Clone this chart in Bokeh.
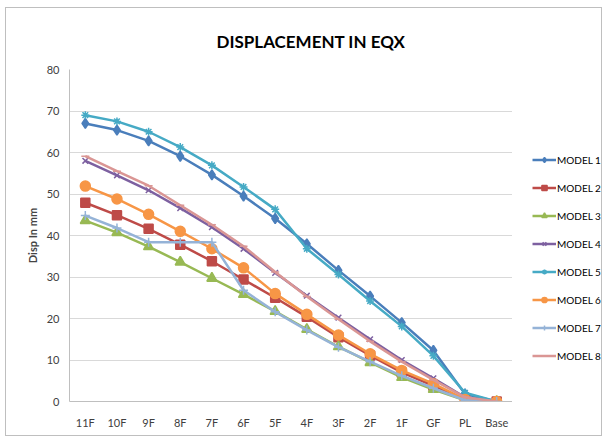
from bokeh.plotting import figure
from bokeh.layouts import row
from bokeh.models import FactorRange, Range1d, FixedTicker, Legend, LegendItem
from bokeh.embed import file_html
from bokeh.resources import INLINE

floors = ["11F", "10F", "9F", "8F", "7F", "6F", "5F", "4F", "3F", "2F", "1F", "GF", "PL", "Base"]

model1 = [67, 65.4, 62.8, 59.1, 54.6, 49.5, 44.1, 38.0, 31.6, 25.4, 19.0, 12.3, 1.8, 0]
model2 = [47.9, 44.9, 41.6, 37.8, 33.8, 29.4, 25.0, 20.4, 15.5, 11.1, 7.0, 3.8, 0.4, 0]
model3 = [43.6, 40.7, 37.3, 33.6, 29.7, 25.8, 21.7, 17.4, 13.2, 9.4, 5.8, 2.9, 0.3, 0]
model4 = [58.0, 54.5, 50.9, 46.6, 42.0, 36.8, 31.0, 25.5, 20.2, 15.0, 10.0, 5.6, 1.0, 0]
model5 = [69.0, 67.5, 65.0, 61.3, 56.9, 51.7, 46.3, 36.8, 30.6, 24.2, 18.1, 11.0, 2.1, 0]
model6 = [51.9, 48.8, 45.1, 41.0, 36.8, 32.2, 26.0, 21.0, 16.0, 11.5, 7.5, 4.3, 0.5, 0]
model7 = [44.8, 41.8, 38.4, 38.4, 38.4, 26.8, 21.6, 17.2, 13.1, 9.6, 6.2, 3.2, 0.3, 0]
model8 = [59.1, 55.5, 52.0, 47.3, 42.6, 37.4, 31.2, 25.3, 19.8, 14.5, 9.6, 5.2, 1.0, 0]

names = ["MODEL 1", "MODEL 2", "MODEL 3", "MODEL 4", "MODEL 5", "MODEL 6", "MODEL 7", "MODEL 8"]
series = [model1, model2, model3, model4, model5, model6, model7, model8]
colors = ["#4A7EBB", "#BE4B48", "#98B954", "#7D60A0", "#46AAC5", "#F79646", "#95B3D7", "#DA9694"]
markers = ["diamond", "square", "triangle", "x", "asterisk", "circle", "cross", "dash"]
msizes = [10, 9, 10, 8, 8, 10, 9, 8]

FONT = "Lato"

p = figure(x_range=FactorRange(*floors, range_padding=0), y_range=Range1d(0, 80),
           width=506, height=427, output_backend="svg", toolbar_location=None,
           min_border_left=63, min_border_right=0, min_border_top=61, min_border_bottom=34)
p.outline_line_color = None

p.title.text = "DISPLACEMENT IN EQX"
p.title.text_font = FONT
p.title.text_font_size = "17px"
p.title.text_font_style = "bold"
p.title.text_color = "#000000"
p.title.align = "left"
p.title.offset = 147
p.title.standoff = 35

p.yaxis.ticker = FixedTicker(ticks=[0, 10, 20, 30, 40, 50, 60, 70, 80])
p.yaxis.axis_label = "Disp In mm"
p.yaxis.axis_label_text_font = FONT
p.yaxis.axis_label_text_font_size = "11px"
p.yaxis.axis_label_text_font_style = "bold"
p.yaxis.axis_label_standoff = 5
p.xaxis.major_label_standoff = 14
p.yaxis.major_label_standoff = 10
for ax in (p.xaxis, p.yaxis):
    ax.major_tick_line_color = None
    ax.minor_tick_line_color = None
    ax.major_tick_out = 0
    ax.major_tick_in = 0
    ax.axis_line_color = "#BFBFBF"
    ax.major_label_text_font = FONT
    ax.major_label_text_font_size = "11px"
    ax.major_label_text_color = "#404040"
p.xgrid.grid_line_color = None
p.ygrid.grid_line_color = "#D9D9D9"
p.ygrid.grid_line_width = 1.2

# legend panel: a small figure whose view window holds none of the data
lg = figure(x_range=FactorRange(*floors), y_range=Range1d(1000, 1001),
            width=89, height=427, output_backend="svg", toolbar_location=None,
            x_axis_type=None, y_axis_type=None, min_border=0)
lg.outline_line_color = None
lg.xgrid.visible = False
lg.ygrid.visible = False

items = []
for name, vals, c, m, s in zip(names, series, colors, markers, msizes):
    p.line(floors, vals, line_color=c, line_width=2.5)
    p.scatter(floors, vals, marker=m, size=s, fill_color=c, line_color=c, line_width=1.5)
    r1 = lg.line(floors, vals, line_color=c, line_width=2.5)
    r2 = lg.scatter(floors, vals, marker=m, size=s - 1, fill_color=c, line_color=c, line_width=1.5)
    items.append(LegendItem(label=name, renderers=[r1, r2]))

legend = Legend(items=items, location=(20, 39), padding=0, margin=0,
                border_line_color=None, background_fill_alpha=0,
                glyph_width=24, glyph_height=13, label_height=13, spacing=15,
                label_standoff=1, label_text_font=FONT, label_text_font_size="10px",
                label_text_color="#000000")
lg.add_layout(legend, "center")

layout = row(p, lg)
layout.margin = (7, 0, 0, 5)
layout.styles = {"border": "1px solid #BFBFBF"}

open("out.html", "w").write(file_html(layout, INLINE))
